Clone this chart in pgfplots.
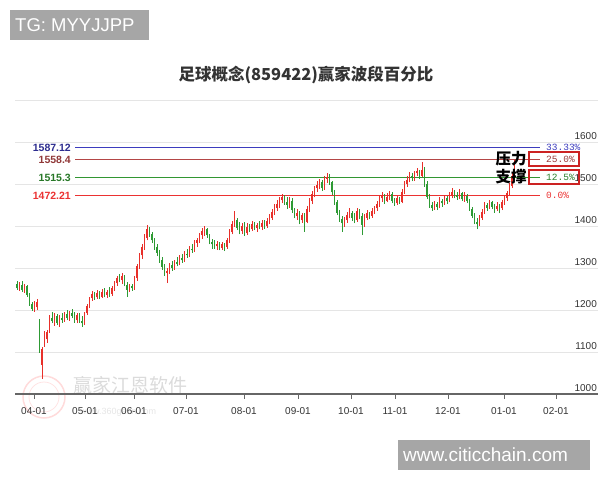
\documentclass[border=0pt]{standalone}
\usepackage{pgfplots}
\pgfplotsset{compat=1.18}
\usepackage{pgfplotstable}
\usepackage{fontspec}
\setmainfont{Liberation Sans}
\newfontfamily\cjk{Noto Sans CJK SC}
\newfontfamily\mono{Liberation Mono}
\definecolor{upc}{RGB}{232,48,42}
\definecolor{dnc}{RGB}{46,154,52}
\definecolor{lvblue}{RGB}{60,60,190}
\definecolor{lvbrown}{RGB}{180,70,70}
\definecolor{lvgreen}{RGB}{50,150,50}
\definecolor{lvred}{RGB}{235,50,50}
\definecolor{boxred}{RGB}{204,34,34}
\definecolor{txt}{RGB}{51,51,51}
\definecolor{wm}{RGB}{166,166,166}

\pgfplotstableread{
i o h l c
0 1262 1270 1248 1252
1 1252 1266 1246 1260
2 1260 1268 1244 1248
3 1248 1262 1240 1256
4 1256 1260 1232 1236
5 1236 1240 1210 1214
6 1214 1220 1198 1202
7 1200 1222 1196 1216
8 1206 1226 1200 1220
9 1172 1178 1098 1102
10 1070 1112 1036 1108
11 1118 1150 1112 1142
12 1130 1152 1122 1148
13 1150 1188 1146 1182
14 1182 1196 1168 1175
15 1175 1192 1162 1186
16 1186 1190 1164 1170
17 1170 1188 1160 1180
18 1180 1194 1170 1176
19 1176 1196 1172 1190
20 1190 1200 1176 1182
21 1182 1198 1174 1192
22 1192 1202 1180 1186
23 1186 1196 1170 1176
24 1176 1192 1168 1188
25 1188 1194 1170 1174
26 1174 1186 1160 1168
27 1168 1196 1164 1192
28 1192 1214 1188 1210
29 1210 1232 1204 1228
30 1228 1246 1222 1238
31 1238 1244 1224 1230
32 1230 1248 1226 1240
33 1240 1246 1226 1232
34 1232 1250 1228 1242
35 1242 1252 1230 1236
36 1236 1248 1228 1244
37 1244 1254 1232 1238
38 1238 1258 1234 1252
39 1252 1268 1246 1264
40 1264 1282 1258 1276
41 1276 1286 1266 1272
42 1272 1288 1262 1280
43 1280 1284 1256 1260
44 1260 1266 1232 1248
45 1248 1262 1244 1256
46 1256 1262 1246 1252
47 1252 1280 1248 1276
48 1276 1310 1270 1304
49 1304 1336 1298 1330
50 1330 1356 1322 1350
51 1350 1380 1344 1372
52 1372 1402 1366 1392
53 1392 1398 1374 1380
54 1380 1386 1360 1366
55 1366 1372 1344 1350
56 1350 1358 1328 1336
57 1336 1344 1312 1318
58 1318 1326 1296 1302
59 1302 1310 1282 1288
60 1288 1300 1264 1294
61 1294 1312 1286 1306
62 1306 1316 1294 1300
63 1300 1320 1296 1314
64 1314 1326 1304 1310
65 1310 1330 1306 1324
66 1324 1334 1312 1318
67 1318 1340 1314 1334
68 1334 1346 1324 1330
69 1330 1352 1326 1346
70 1346 1358 1336 1342
71 1342 1366 1338 1360
72 1360 1372 1350 1366
73 1366 1384 1360 1378
74 1378 1396 1370 1388
75 1388 1400 1376 1392
76 1392 1396 1372 1378
77 1378 1382 1356 1362
78 1362 1370 1346 1356
79 1356 1366 1346 1352
80 1352 1364 1344 1358
81 1358 1362 1342 1348
82 1348 1362 1344 1356
83 1356 1360 1340 1350
84 1350 1372 1346 1366
85 1366 1392 1360 1386
86 1386 1412 1380 1404
87 1404 1436 1398 1414
88 1414 1420 1390 1396
89 1396 1410 1380 1388
90 1388 1408 1382 1400
91 1400 1410 1376 1384
92 1384 1406 1378 1398
93 1398 1404 1386 1392
94 1392 1412 1388 1404
95 1404 1410 1390 1396
96 1396 1408 1386 1402
97 1402 1412 1392 1398
98 1398 1414 1390 1406
99 1406 1414 1394 1400
100 1400 1420 1396 1412
101 1412 1428 1404 1420
102 1420 1440 1414 1434
103 1434 1452 1426 1444
104 1444 1462 1436 1452
105 1452 1470 1444 1462
106 1462 1476 1454 1468
107 1468 1474 1450 1456
108 1456 1468 1440 1450
109 1450 1470 1444 1460
110 1460 1466 1432 1438
111 1438 1444 1418 1424
112 1424 1440 1414 1432
113 1432 1436 1404 1414
114 1414 1432 1408 1426
115 1426 1430 1386 1410
116 1410 1448 1406 1440
117 1440 1466 1434 1460
118 1460 1484 1452 1476
119 1476 1496 1468 1490
120 1490 1506 1482 1498
121 1498 1512 1488 1504
122 1504 1510 1484 1490
123 1490 1520 1486 1512
124 1512 1526 1502 1516
125 1516 1524 1498 1504
126 1504 1508 1474 1480
127 1480 1486 1450 1456
128 1456 1462 1426 1432
129 1432 1438 1410 1416
130 1416 1424 1386 1406
131 1406 1422 1398 1414
132 1414 1434 1408 1426
133 1426 1442 1418 1432
134 1432 1436 1412 1420
135 1420 1430 1406 1414
136 1414 1442 1410 1436
137 1436 1440 1416 1424
138 1424 1430 1378 1402
139 1402 1428 1398 1420
140 1420 1438 1414 1430
141 1430 1434 1416 1424
142 1424 1442 1420 1436
143 1436 1448 1428 1442
144 1442 1460 1436 1452
145 1452 1474 1446 1466
146 1466 1480 1458 1472
147 1472 1476 1452 1460
148 1460 1478 1456 1470
149 1470 1484 1462 1476
150 1476 1480 1454 1460
151 1460 1466 1448 1454
152 1454 1472 1450 1466
153 1466 1470 1452 1458
154 1458 1488 1454 1482
155 1482 1508 1476 1500
156 1500 1518 1494 1510
157 1510 1528 1504 1520
158 1520 1526 1506 1514
159 1514 1532 1508 1526
160 1526 1538 1518 1530
161 1530 1534 1512 1520
162 1520 1552 1516 1534
163 1534 1540 1494 1500
164 1500 1506 1464 1470
165 1470 1476 1444 1450
166 1450 1458 1436 1442
167 1442 1460 1438 1452
168 1452 1456 1438 1446
169 1446 1468 1442 1460
170 1460 1464 1446 1454
171 1454 1474 1450 1466
172 1466 1472 1452 1460
173 1460 1482 1456 1472
174 1472 1490 1466 1480
175 1480 1486 1466 1474
176 1474 1480 1462 1470
177 1470 1488 1464 1478
178 1478 1482 1460 1464
179 1464 1480 1458 1472
180 1472 1476 1454 1460
181 1460 1464 1436 1440
182 1440 1446 1418 1424
183 1424 1430 1404 1410
184 1410 1418 1392 1404
185 1404 1426 1400 1420
186 1420 1440 1414 1434
187 1434 1456 1428 1450
188 1450 1454 1436 1444
189 1444 1462 1440 1456
190 1456 1460 1440 1446
191 1446 1452 1432 1440
192 1440 1456 1436 1448
193 1448 1452 1430 1442
194 1442 1462 1438 1456
195 1456 1472 1450 1466
196 1466 1484 1460 1478
197 1478 1502 1472 1496
198 1496 1526 1490 1520
199 1520 1556 1514 1542
}\kline

\begin{document}
\begin{tikzpicture}[x=1pt,y=1pt]
\useasboundingbox (0,0) rectangle (600,480);
% watermark
\draw[draw=red!14, line width=1.5pt] (44,83) circle (21);
\draw[draw=red!11, line width=0.8pt] (44,83) circle (15);
\node[anchor=west, inner sep=0, text=black!14] at (73,95) {\cjk\fontsize{19}{19}\selectfont 赢家江恩软件};
\node[anchor=west, inner sep=0, text=black!10] at (80,68) {\fontsize{9}{9}\selectfont www.360gann.com};
\begin{axis}[
  at={(15pt,86pt)}, anchor=south west,
  scale only axis, width=583pt, height=294pt,
  xmin=-0.8, xmax=232.4, ymin=1000, ymax=1700,
  clip=false,
  axis x line*=bottom, axis y line*=right,
  x axis line style={draw=black!60, line width=1.3pt, -},
  y axis line style={draw=none},
  xtick={6.8,27.2,46.8,67.6,90.8,112.4,133.6,151.2,172.4,194.8,215.6},
  xticklabels={04-01,05-01,06-01,07-01,08-01,09-01,10-01,11-01,12-01,01-01,02-01},
  ytick={1000,1100,1200,1300,1400,1500,1600,1700},
  yticklabels={1000,1100,1200,1300,1400,1500,1600,{}},
  /pgf/number format/assume math mode=true,
  tick align=outside,
  xtick style={draw=black!60, line width=0.8pt},
  major tick length=5pt,
  ytick style={draw=none},
  ymajorgrids, grid style={draw=black!10, line width=0.8pt},
  xticklabel style={font=\fontsize{10}{10}\selectfont, text=txt, yshift=-5pt},
  yticklabel style={font=\fontsize{10}{10}\selectfont, text=txt, anchor=south east, xshift=-5pt, yshift=1pt, inner sep=1pt},
]
% level lines: start x and length along x, drawn as horizontal error bars
\addplot[draw=none, mark=none, error bars/.cd, x dir=plus, x explicit, error mark=none,
  error bar style={draw=lvblue, line width=1pt}]
  coordinates {(23.2,1587.12) +- (186,0)};
\addplot[draw=none, mark=none, error bars/.cd, x dir=plus, x explicit, error mark=none,
  error bar style={draw=lvbrown, line width=1pt}]
  coordinates {(23.2,1558.4) +- (186,0)};
\addplot[draw=none, mark=none, error bars/.cd, x dir=plus, x explicit, error mark=none,
  error bar style={draw=lvgreen, line width=1pt}]
  coordinates {(23.2,1515.3) +- (186,0)};
\addplot[draw=none, mark=none, error bars/.cd, x dir=plus, x explicit, error mark=none,
  error bar style={draw=lvred, line width=1pt}]
  coordinates {(23.2,1472.21) +- (186,0)};
% wicks
\addplot[draw=none, mark=none, restrict expr to domain={\thisrow{c}-\thisrow{o}}{0:1000},
  error bars/.cd, y dir=plus, y explicit, error mark=none,
  error bar style={draw=upc, line width=0.8pt}]
  table[x=i, y=l, y error expr={\thisrow{h}-\thisrow{l}}] {\kline};
\addplot[draw=none, mark=none, restrict expr to domain={\thisrow{c}-\thisrow{o}}{-1000:0},
  error bars/.cd, y dir=plus, y explicit, error mark=none,
  error bar style={draw=dnc, line width=0.8pt}]
  table[x=i, y=l, y error expr={\thisrow{h}-\thisrow{l}}] {\kline};
% bodies
\addplot[draw=none, mark=none, restrict expr to domain={\thisrow{c}-\thisrow{o}}{0:1000},
  error bars/.cd, y dir=plus, y explicit, error mark=none,
  error bar style={draw=upc, line width=1.9pt}]
  table[x=i, y=o, y error expr={\thisrow{c}-\thisrow{o}}] {\kline};
\addplot[draw=none, mark=none, restrict expr to domain={\thisrow{c}-\thisrow{o}}{-1000:0},
  error bars/.cd, y dir=plus, y explicit, error mark=none,
  error bar style={draw=dnc, line width=1.9pt}]
  table[x=i, y=c, y error expr={\thisrow{o}-\thisrow{c}}] {\kline};
\end{axis}
% left level labels
\begin{scope}[every node/.style={inner sep=0, anchor=east, font=\bfseries\fontsize{10.5}{10.5}\selectfont}]
\node[text=lvblue!75!black] at (71,332.6) {1587.12};
\node[text=lvbrown!80!black] at (71,320.5) {1558.4};
\node[text=lvgreen!80!black] at (71,302.4) {1515.3};
\node[text=lvred] at (71,284.3) {1472.21};
\end{scope}
% right percent labels
\begin{scope}[every node/.style={inner sep=0, anchor=west, font=\mono\fontsize{9.5}{9.5}\selectfont}]
\node[text=lvblue] at (546,332.6) {33.33\%};
\node[text=lvbrown!85!black] at (546,320.5) {25.0\%};
\node[text=lvgreen!85!black] at (546,302.4) {12.5\%};
\node[text=lvred] at (546,284.3) {0.0\%};
\end{scope}
\draw[boxred, line width=1.2pt] (529,328) rectangle (579,314);
\draw[boxred, line width=1.2pt] (529,310) rectangle (579,296);
\node[inner sep=0] at (511,321) {\cjk\bfseries\fontsize{15.5}{15.5}\selectfont 压力};
\node[inner sep=0] at (511,303) {\cjk\bfseries\fontsize{15.5}{15.5}\selectfont 支撑};
% title
\node[inner sep=0, text=txt] at (306,405) {\cjk\bfseries\fontsize{16.5}{16.5}\selectfont 足球概念(859422)赢家波段百分比};
% top-left box
\fill[wm] (10,440) rectangle (149,470);
\node[anchor=west, inner sep=0, text=white] at (15,455) {\fontsize{18.5}{18.5}\selectfont TG: MYYJJPP};
% bottom-right box
\fill[wm] (398,10) rectangle (590,40);
\node[anchor=west, inner sep=0, text=white] at (403,25) {\fontsize{19}{19}\selectfont www.citicchain.com};
\end{tikzpicture}
\end{document}
